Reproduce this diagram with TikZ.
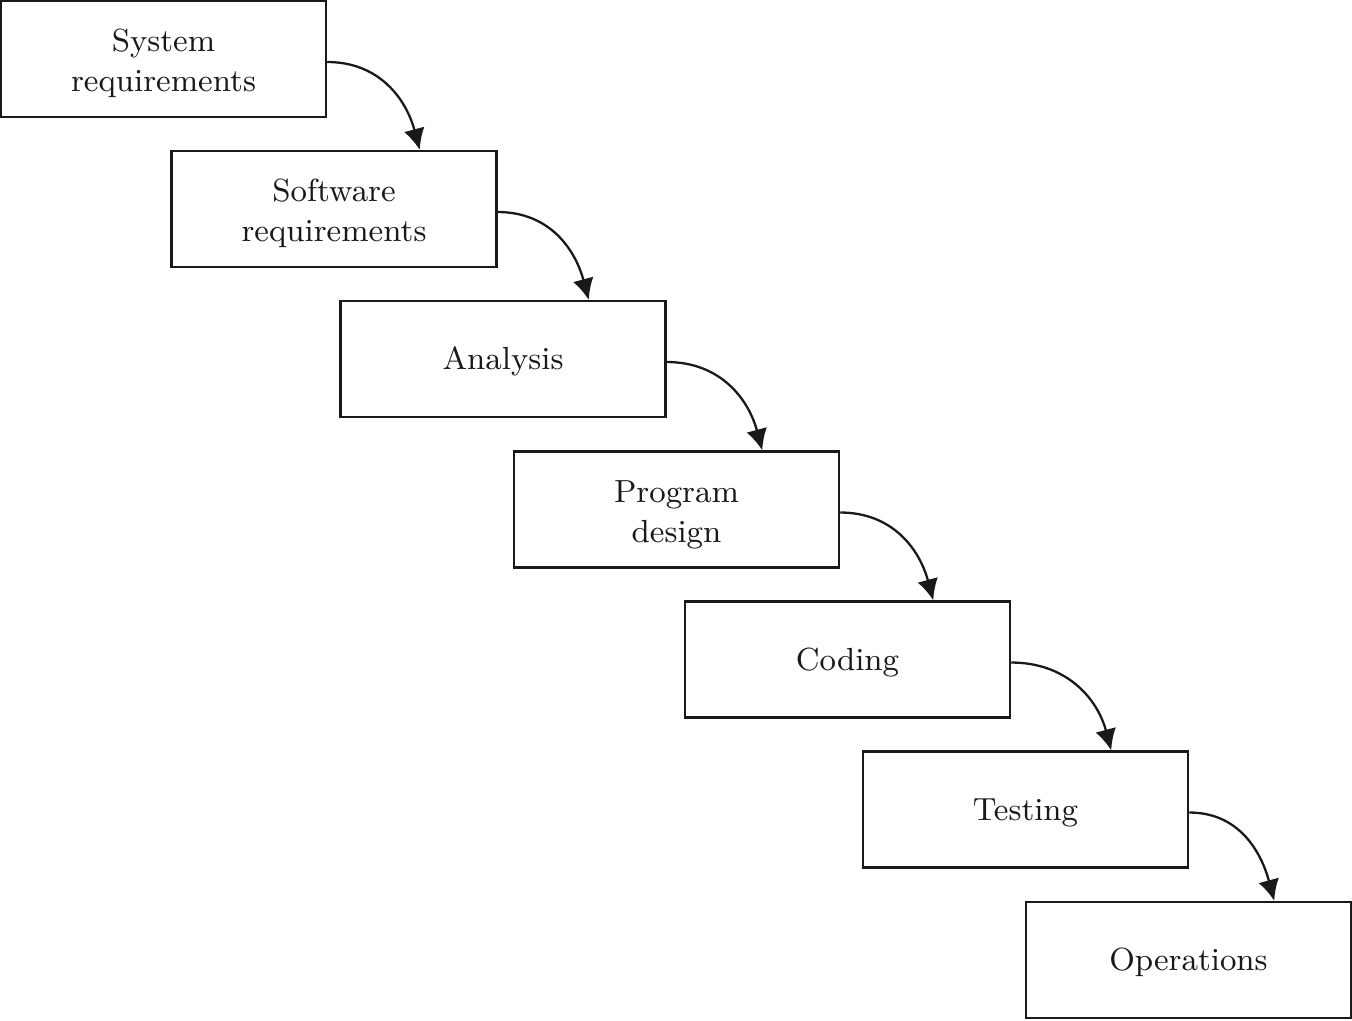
\documentclass[tikz,border=0pt]{standalone}
\usetikzlibrary{arrows.meta,calc}
\begin{document}
\begin{tikzpicture}[x=0.01cm,y=-0.01cm,
  stage/.style={draw=black!90, line width=0.65pt, minimum width=3.25cm, minimum height=1.16cm,
    inner sep=0pt, align=center, font=\fontsize{9.1}{11.4}\selectfont, text=black!90},
  flow/.style={line width=0.65pt, black!90, -{Latex[length=6pt,width=6pt]}}]
  \useasboundingbox (0,0) rectangle (1352,1020);
  \node[stage] (s1) at (163.5,59)   {\rule{0pt}{9pt}System\\requirements};
  \node[stage] (s2) at (334,209)    {\rule{0pt}{9pt}Software\\requirements};
  \node[stage] (s3) at (503,359)    {\rule{0pt}{8pt}Analysis};
  \node[stage] (s4) at (676.5,509.5){\rule{0pt}{9pt}Program\\design};
  \node[stage] (s5) at (847.5,659.5){\rule{0pt}{8pt}Coding};
  \node[stage] (s6) at (1025.5,809.5){\rule{0pt}{8pt}Testing};
  \node[stage] (s7) at (1188.5,960) {\rule{0pt}{8pt}Operations};
  \foreach \a/\b in {s1/s2,s2/s3,s3/s4,s4/s5,s5/s6,s6/s7}{
    \draw[flow] ($(\a.east)+(0,3)$) to[out=0,in=105,looseness=1.05]
      ($(\b.north east)+(-78,0)$);
  }
\end{tikzpicture}
\end{document}
